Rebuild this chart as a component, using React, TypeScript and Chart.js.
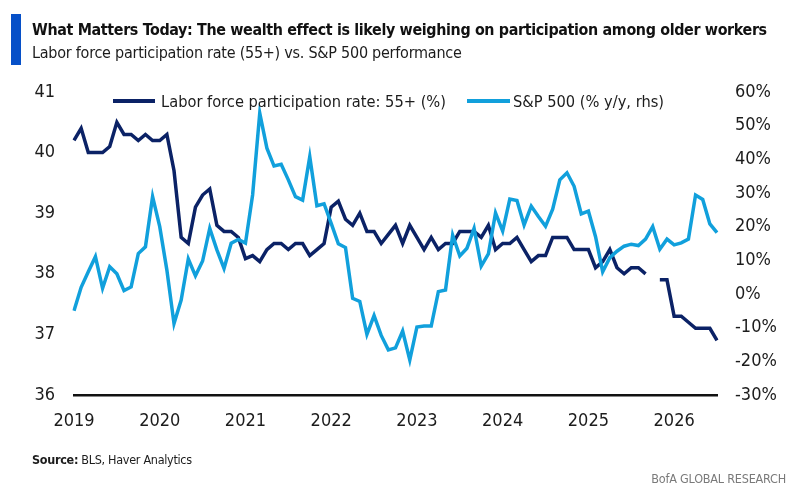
import { useEffect, useRef } from 'react';
import { Chart, registerables } from 'chart.js';

Chart.register(...registerables);

// monthly categories, Jan 2019 onwards
const months: string[] = [];
for (let i = 0; i < 91; i++) {
  const y = 2019 + Math.floor(i / 12);
  const m = (i % 12) + 1;
  months.push(`${y}-${String(m).padStart(2, '0')}`);
}

// Labor force participation rate: 55+ (%), left axis
const lfpr: (number | null)[] = [
  40.2, 40.4, 40.0, 40.0, 40.0, 40.1, 40.5, 40.3, 40.3, 40.2, 40.3, 40.2,
  40.2, 40.3, 39.7, 38.6, 38.5, 39.1, 39.3, 39.4, 38.8, 38.7, 38.7, 38.6,
  38.25, 38.3, 38.2, 38.4, 38.5, 38.5, 38.4, 38.5, 38.5, 38.3, 38.4, 38.5,
  39.1, 39.2, 38.9, 38.8, 39.0, 38.7, 38.7, 38.5, 38.65, 38.8, 38.5, 38.8,
  38.6, 38.4, 38.6, 38.4, 38.5, 38.5, 38.7, 38.7, 38.7, 38.6, 38.8, 38.4,
  38.5, 38.5, 38.6, 38.4, 38.2, 38.3, 38.3, 38.6, 38.6, 38.6, 38.4, 38.4,
  38.4, 38.1, 38.2, 38.4, 38.1, 38.0, 38.1, 38.1, 38.0, null, 37.9, 37.9,
  37.3, 37.3, 37.2, 37.1, 37.1, 37.1, 36.9,
];

// S&P 500 (% y/y), right axis
const spx: number[] = [
  -5, 2, 6.6, 11.1, 1.7, 8.1, 6, 1, 2.1, 12, 14, 28.9,
  20, 7.1, -8.8, -1.8, 10.4, 5.4, 9.8, 19.5, 13.1, 7.6, 15.1, 16.2,
  15.1, 29.4, 53.7, 43.3, 38, 38.5, 33.9, 28.9, 27.9, 40.8, 26.2, 26.8,
  21, 14.9, 13.8, -1.3, -2.2, -12, -6.4, -12.3, -16.6, -16, -11, -19.6,
  -9.8, -9.5, -9.5, 0.7, 1.2, 17.5, 11.3, 13.6, 19.5, 8.3, 11.9, 24.1,
  18.7, 28.2, 27.8, 20.5, 26.1, 23, 20.1, 25.2, 33.9, 36, 32, 23.8,
  24.6, 17, 6.6, 10.8, 12.7, 14.2, 14.8, 14.4, 16.3, 20, 13.3, 16.3,
  14.6, 15.2, 16.3, 29.4, 28.1, 20.8, 18.2,
];

const NAVY = '#0b2266';
const SKY = '#11a0dc';
const FONT = "'Liberation Sans Narrow', 'DejaVu Sans Condensed', 'Liberation Sans', sans-serif";
const TEXT = '#1c1c1c';

export default function App() {
  const canvasRef = useRef<HTMLCanvasElement | null>(null);
  const chartRef = useRef<Chart | null>(null);

  useEffect(() => {
    const ctx = canvasRef.current?.getContext('2d');
    if (!ctx) return;
    if (chartRef.current) chartRef.current.destroy();

    chartRef.current = new Chart(ctx, {
      type: 'line',
      data: {
        labels: months,
        datasets: [
          {
            label: 'S&P 500 (% y/y, rhs)',
            data: spx,
            yAxisID: 'y1',
            borderColor: SKY,
            borderWidth: 3.5,
            pointRadius: 0,
            tension: 0,
          },
          {
            label: 'Labor force participation rate: 55+ (%)',
            data: lfpr,
            yAxisID: 'y',
            borderColor: NAVY,
            borderWidth: 3.5,
            pointRadius: 0,
            tension: 0,
            spanGaps: false,
          },
        ],
      },
      options: {
        animation: false,
        responsive: false,
        layout: { padding: { top: 92, bottom: 63, left: 0, right: 0 } },
        plugins: { legend: { display: false }, tooltip: { enabled: false } },
        scales: {
          x: {
            type: 'category',
            offset: false,
            grid: { display: false, drawTicks: false },
            border: { display: true, color: '#111', width: 2.5 },
            ticks: {
              autoSkip: false,
              maxRotation: 0,
              padding: 16,
              color: TEXT,
              font: { family: FONT, size: 18 },
              callback: function (value) {
                const lab = this.getLabelForValue(value as number);
                return lab.endsWith('-01') ? lab.slice(0, 4) : '';
              },
            },
            afterFit: (scale) => {
              scale.height = 40;
            },
          },
          y: {
            position: 'left',
            min: 36,
            max: 41,
            grid: { display: false, drawTicks: false },
            border: { display: false },
            ticks: {
              stepSize: 1,
              padding: 19,
              color: TEXT,
              font: { family: FONT, size: 18 },
            },
            afterFit: (scale) => {
              scale.width = 74;
            },
          },
          y1: {
            position: 'right',
            min: -30,
            max: 60,
            grid: { display: false, drawTicks: false },
            border: { display: false },
            ticks: {
              stepSize: 10,
              padding: 18,
              color: TEXT,
              font: { family: FONT, size: 18 },
              callback: (v) => `${v}%`,
            },
            afterFit: (scale) => {
              scale.width = 83;
            },
          },
        },
      },
    });

    return () => {
      if (chartRef.current) {
        chartRef.current.destroy();
        chartRef.current = null;
      }
    };
  }, []);

  return (
    <div
      style={{
        position: 'absolute',
        left: 0,
        top: 0,
        width: 800,
        height: 498,
        background: '#fff',
        fontFamily: FONT,
        color: TEXT,
        overflow: 'hidden',
      }}
    >
      <canvas ref={canvasRef} width={800} height={498} style={{ position: 'absolute', left: 0, top: 0 }} />
      <div style={{ position: 'absolute', left: 11, top: 14, width: 10, height: 51, background: '#0650c8' }} />
      <div style={{ position: 'absolute', left: 32, top: 20, fontSize: 15.9, letterSpacing: -0.35, lineHeight: '20px', fontWeight: 700, whiteSpace: 'nowrap', color: '#111' }}>
        What Matters Today: The wealth effect is likely weighing on participation among older workers
      </div>
      <div style={{ position: 'absolute', left: 32, top: 43, fontSize: 16, letterSpacing: -0.25, lineHeight: '20px', whiteSpace: 'nowrap' }}>
        Labor force participation rate (55+) vs. S&amp;P 500 performance
      </div>
      <div style={{ position: 'absolute', left: 113, top: 90, height: 22, display: 'flex', alignItems: 'center', fontSize: 16.3, whiteSpace: 'nowrap' }}>
        <span style={{ display: 'inline-block', width: 42, height: 4, background: NAVY, marginRight: 6 }} />
        <span>Labor force participation rate: 55+ (%)</span>
      </div>
      <div style={{ position: 'absolute', left: 467, top: 90, height: 22, display: 'flex', alignItems: 'center', fontSize: 16.3, whiteSpace: 'nowrap' }}>
        <span style={{ display: 'inline-block', width: 43, height: 4, background: SKY, marginRight: 3 }} />
        <span>S&amp;P 500 (% y/y, rhs)</span>
      </div>
      <div style={{ position: 'absolute', left: 32, top: 452, fontSize: 12.5, letterSpacing: -0.3, lineHeight: '16px', whiteSpace: 'nowrap' }}>
        <b>Source:</b> BLS, Haver Analytics
      </div>
      <div style={{ position: 'absolute', right: 14, top: 471, fontSize: 12.5, letterSpacing: -0.2, lineHeight: '16px', whiteSpace: 'nowrap', color: '#7a7a7a' }}>
        BofA GLOBAL RESEARCH
      </div>
    </div>
  );
}
